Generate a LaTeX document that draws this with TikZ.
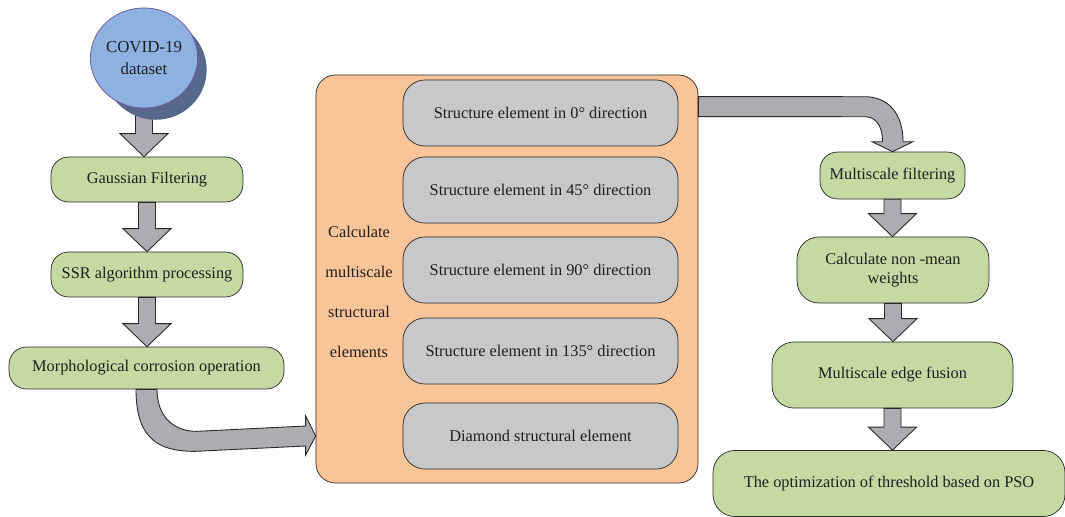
\documentclass[tikz,border=0pt]{standalone}
\usepackage{fontspec}
\setmainfont{Liberation Serif}
\usetikzlibrary{calc, shapes.geometric}

\definecolor{stepgreen}{RGB}{197,218,163}
\definecolor{elemgray}{RGB}{200,200,203}
\definecolor{groupfill}{RGB}{249,197,152}
\definecolor{arrowgray}{RGB}{172,172,177}
\definecolor{dataface}{RGB}{141,177,225}
\definecolor{datashade}{RGB}{86,104,140}
\definecolor{dataedge}{RGB}{112,86,150}
\definecolor{inkline}{RGB}{40,40,40}

\pgfdeclarelayer{background}
\pgfsetlayers{background,main}

% block arrow straight down from #1 to #2
\newcommand{\blkdown}[2]{%
  \coordinate (tip) at (#1.south |- #2.north);
  \draw[blkarrow] ($(#1.south)+(-8.5,0)$) -- ($(#1.south)+(8.5,0)$)
    -- ($(tip)+(8.5,-23)$) -- ($(tip)+(24,-23)$) -- (tip)
    -- ($(tip)+(-24,-23)$) -- ($(tip)+(-8.5,-23)$) -- cycle;}

\begin{document}
\begin{tikzpicture}[x=0.02cm, y=-0.02cm,
    font=\fontsize{9.3pt}{11pt}\selectfont, text=black!88,
    stepbox/.style={rectangle, rounded corners=10pt, draw=inkline, fill=stepgreen, inner sep=2pt, align=center},
    elembox/.style={rectangle, rounded corners=12.5pt, draw=inkline, fill=elemgray, minimum width=156.5pt, minimum height=37.6pt},
    blkarrow/.style={draw=inkline, fill=arrowgray, line width=0.5pt, line join=miter}]
  \useasboundingbox (0,0) rectangle (1065,517);

  % input data
  \foreach \k in {0,0.1,...,1}
    \fill[datashade] (144+13*\k,58+13*\k) ellipse [x radius=29pt, y radius=28.5pt];
  \node[ellipse, draw=dataedge, fill=dataface, minimum width=58pt, minimum height=57pt,
        inner sep=0pt, align=center, font=\fontsize{9.6pt}{12pt}\selectfont] (data) at (144,58) {COVID-19\\dataset};

  % left column
  \node[stepbox, minimum width=109.2pt, minimum height=25.6pt] (gauss) at (147,179.5) {Gaussian Filtering};
  \node[stepbox, minimum width=109.2pt, minimum height=25.6pt] (ssr) at (147,274.5) {SSR algorithm processing};
  \node[stepbox, minimum width=156.5pt, minimum height=23.9pt] (morph) at (146.5,368) {Morphological corrosion operation};

  % structural elements
  \node[rectangle, rounded corners=11pt, draw=inkline, fill=groupfill,
        minimum width=217.4pt, minimum height=232.2pt] (group) at (507,279) {};
  \node[elembox] (e0) at (540.5,113) {Structure element in 0° direction};
  \node[elembox] (e45) at (540.5,190) {Structure element in 45° direction};
  \node[elembox] (e90) at (540.5,270) {Structure element in 90° direction};
  \node[elembox] (e135) at (540.5,351) {Structure element in 135° direction};
  \node[elembox] (dia) at (540.5,436) {Diamond structural element};
  \node[align=center, font=\fontsize{9.3pt}{22.8pt}\selectfont] (lbl) at (359,292)
    {Calculate\\multiscale\\structural\\elements};

  % right column
  \node[stepbox, minimum width=82.5pt, minimum height=26.7pt] (mfilt) at (892.5,175.5) {Multiscale filtering};
  \node[stepbox, rounded corners=12.5pt, minimum width=109.2pt, minimum height=37.6pt] (weight) at (893,270) {Calculate non -mean\\weights};
  \node[stepbox, rounded corners=12.5pt, minimum width=137.1pt, minimum height=37.6pt] (fuse) at (892.5,375) {Multiscale edge fusion};
  \node[stepbox, rounded corners=12.5pt, minimum width=200.3pt, minimum height=37.6pt] (pso) at (889,483.5) {The optimization of threshold based on PSO};

  % arrows
  \begin{pgfonlayer}{background}
    \blkdown{data}{gauss}
  \end{pgfonlayer}
  \blkdown{gauss}{ssr}
  \blkdown{ssr}{morph}
  \blkdown{mfilt}{weight}
  \blkdown{weight}{fuse}
  \blkdown{fuse}{pso}

  \coordinate (into) at (group.west |- dia.west);
  \draw[blkarrow] ($(morph.south)+(-10.5,0)$)
      .. controls ($(morph.south)+(-10.5,51)$) and ($(morph.south)+(13.5,62)$) .. ($(morph.south)+(48.5,62)$)
      -- ($(into)+(-10,10)$) -- ($(into)+(-10,19)$) -- (into) -- ($(into)+(-10,-20)$) -- ($(into)+(-10,-10)$)
      -- ($(morph.south)+(50,42)$)
      .. controls ($(morph.south)+(28,42)$) and ($(morph.south)+(10.5,28)$) .. ($(morph.south)+(10.5,0)$) -- cycle;

  \draw[blkarrow] ($(group.north east)+(0,22)$) -- ($(mfilt.north)+(-28,-55)$)
      .. controls ($(mfilt.north)+(-4,-55)$) and ($(mfilt.north)+(10.5,-38)$) .. ($(mfilt.north)+(10.5,-10)$)
      -- ($(mfilt.north)+(20.5,-10)$) -- (mfilt.north) -- ($(mfilt.north)+(-20.5,-10)$) -- ($(mfilt.north)+(-10,-10)$)
      .. controls ($(mfilt.north)+(-10,-28)$) and ($(mfilt.north)+(-18,-35)$) .. ($(mfilt.north)+(-28,-35)$)
      -- ($(group.north east)+(0,42)$) -- cycle;
\end{tikzpicture}
\end{document}
